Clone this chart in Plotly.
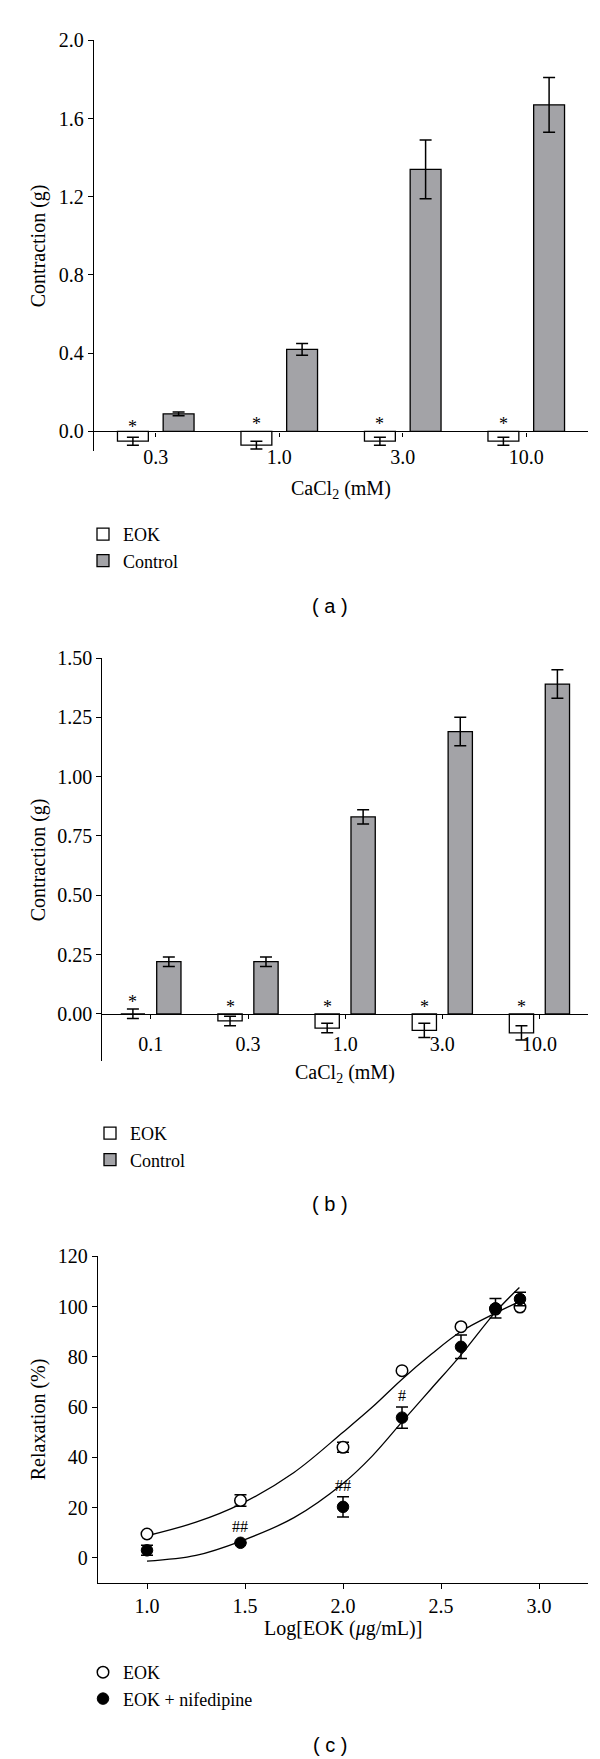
import plotly.graph_objects as go

W, H = 600, 1759

# ---------------- data ----------------
# Panel (a)
a_cats = ["0.3", "1.0", "3.0", "10.0"]
a_eok = [-0.05, -0.07, -0.05, -0.05]
a_eok_err = [0.02, 0.02, 0.02, 0.02]
a_ctrl = [0.09, 0.42, 1.34, 1.67]
a_ctrl_err = [0.01, 0.03, 0.15, 0.14]
a_star_y = [0.05, 0.065, 0.065, 0.065]
a_yticks = [0.0, 0.4, 0.8, 1.2, 1.6, 2.0]

# Panel (b)
b_cats = ["0.1", "0.3", "1.0", "3.0", "10.0"]
b_eok = [0.0, -0.03, -0.06, -0.07, -0.08]
b_eok_err = [0.02, 0.02, 0.02, 0.03, 0.03]
b_ctrl = [0.22, 0.22, 0.83, 1.19, 1.39]
b_ctrl_err = [0.02, 0.02, 0.03, 0.06, 0.06]
b_star_y = [0.072, 0.05, 0.05, 0.05, 0.05]
b_yticks = [0.0, 0.25, 0.5, 0.75, 1.0, 1.25, 1.5]

# Panel (c)
c_x = [1.0, 1.477, 2.0, 2.301, 2.602, 2.778, 2.903]
c_eok = [9.5, 22.8, 44.0, 74.5, 92.0, 99.0, 99.8]
c_eok_err = [0, 2.3, 2.0, 0, 0, 0, 0]
c_nif = [3.0, 6.0, 20.3, 55.8, 84.0, 99.3, 103.0]
c_nif_err = [2.0, 0, 4.0, 4.2, 4.7, 3.9, 2.7]
fit_x = [1.0, 1.25, 1.48, 1.75, 2.0, 2.15, 2.3, 2.45, 2.6, 2.78, 2.9]
fit_eok = [8.8, 14.2, 21.5, 34.0, 50.0, 60.0, 71.0, 81.0, 90.0, 97.5, 102.0]
fit_nif = [-1.3, 1.0, 6.7, 16.0, 29.6, 40.6, 54.0, 67.3, 80.6, 98.0, 107.6]
c_marks = ["##", "##", "#"]
c_marks_x = [1.477, 2.0, 2.301]
c_marks_y = [12.6, 28.7, 64.7]
c_xticks = [1.0, 1.5, 2.0, 2.5, 3.0]
c_yticks = [0, 20, 40, 60, 80, 100, 120]

# ---------------- styling ----------------
SERIF = "Liberation Serif"
SANS = "Liberation Sans"
GREY = "#a3a3a7"
FS = 20
LFS = 18


def py(p):
    return 1 - p / H


def px(p):
    return p / W


a_xdom = [px(86), px(580)]
a_ydom = [py(443), py(32.3)]
a_yr = [-0.1, 2.0]
b_xdom = [px(94.3), px(580)]
b_ydom = [py(1053.3), py(650)]
b_yr = [-0.2, 1.5]
c_xdom = [px(90), px(580)]
c_ydom = [py(1575), py(1248.3)]
c_yr = [-10, 120]


def zero_pos(dom, rng):
    return dom[0] + (0 - rng[0]) / (rng[1] - rng[0]) * (dom[1] - dom[0])


fig = go.Figure()

bar_off_eok, bar_off_ctrl, bar_w = -0.31, 0.06, 0.25
err_style = dict(type="data", color="black", thickness=1.5, width=6)

# (a) bars
fig.add_trace(go.Bar(x=a_cats, y=a_eok, offset=bar_off_eok, width=bar_w, name="EOK",
                     marker=dict(color="white", line=dict(color="black", width=1.3)),
                     error_y=dict(array=a_eok_err, **err_style),
                     xaxis="x", yaxis="y", legend="legend"))
fig.add_trace(go.Bar(x=a_cats, y=a_ctrl, offset=bar_off_ctrl, width=bar_w, name="Control",
                     marker=dict(color=GREY, line=dict(color="black", width=1.3)),
                     error_y=dict(array=a_ctrl_err, **err_style),
                     xaxis="x", yaxis="y", legend="legend"))
# (b) bars
fig.add_trace(go.Bar(x=b_cats, y=b_eok, offset=bar_off_eok, width=bar_w, name="EOK",
                     marker=dict(color="white", line=dict(color="black", width=1.3)),
                     error_y=dict(array=b_eok_err, **err_style),
                     xaxis="x2", yaxis="y2", legend="legend2"))
fig.add_trace(go.Bar(x=b_cats, y=b_ctrl, offset=bar_off_ctrl, width=bar_w, name="Control",
                     marker=dict(color=GREY, line=dict(color="black", width=1.3)),
                     error_y=dict(array=b_ctrl_err, **err_style),
                     xaxis="x2", yaxis="y2", legend="legend2"))

# (c) fit lines
for fy in (fit_eok, fit_nif):
    fig.add_trace(go.Scatter(x=fit_x, y=fy, mode="lines", line=dict(color="black", width=1.3, shape="spline"),
                             showlegend=False, xaxis="x3", yaxis="y3", hoverinfo="skip"))
# (c) points
fig.add_trace(go.Scatter(x=c_x, y=c_eok, mode="markers", name="EOK",
                         marker=dict(symbol="circle", size=11.5, color="white", line=dict(color="black", width=1.5)),
                         error_y=dict(array=c_eok_err, type="data", color="black", thickness=1.5, width=6),
                         xaxis="x3", yaxis="y3", legend="legend3"))
fig.add_trace(go.Scatter(x=c_x, y=c_nif, mode="markers", name="EOK + nifedipine",
                         marker=dict(symbol="circle", size=11.5, color="black", line=dict(color="black", width=1)),
                         error_y=dict(array=c_nif_err, type="data", color="black", thickness=1.5, width=6),
                         xaxis="x3", yaxis="y3", legend="legend3"))

tickfont = dict(family=SERIF, size=FS, color="black")
common_axis = dict(showgrid=False, zeroline=False, showline=True, linecolor="black", linewidth=1.3,
                   ticks="outside", tickcolor="black", tickwidth=1.2, tickfont=tickfont,
                   automargin=False, fixedrange=True)

annotations = []


def star_annots(ys, xref, yref):
    out = []
    for i, v in enumerate(ys):
        out.append(dict(x=i + bar_off_eok + bar_w / 2, y=v, xref=xref, yref=yref, text="*",
                        xanchor="center", yanchor="middle",
                        showarrow=False, font=dict(family=SERIF, size=18, color="black"), yshift=-5))
    return out


annotations += star_annots(a_star_y, "x", "y")
annotations += star_annots(b_star_y, "x2", "y2")
for t, xv, yv in zip(c_marks, c_marks_x, c_marks_y):
    annotations.append(dict(x=xv, y=yv, xref="x3", yref="y3", text=t, showarrow=False,
                            xanchor="center", yanchor="middle",
                            font=dict(family=SERIF, size=16, color="black")))


def ytitle(text, dom):
    return dict(x=px(30.6), y=(dom[0] + dom[1]) / 2, xref="paper", yref="paper", text=text,
                xanchor="center", yanchor="middle",
                textangle=-90, showarrow=False, font=dict(family=SERIF, size=FS, color="black"))


def xtitle(text, dom, ypix):
    return dict(x=(dom[0] + dom[1]) / 2, y=py(ypix), xref="paper", yref="paper", text=text,
                xanchor="center", yanchor="middle",
                showarrow=False, font=dict(family=SERIF, size=FS, color="black"))


annotations += [
    ytitle("Contraction (g)", a_ydom),
    ytitle("Contraction (g)", b_ydom),
    ytitle("Relaxation (%)", c_ydom),
    xtitle("CaCl<sub>2</sub> (mM)", a_xdom, 481),
    xtitle("CaCl<sub>2</sub> (mM)", b_xdom, 1065),
    xtitle("Log[EOK (<i>μ</i>g/mL)]", c_xdom, 1620),
]
for lab, ypix in (("( a )", 598), ("( b )", 1196), ("( c )", 1737)):
    annotations.append(dict(x=px(322), y=py(ypix), xref="paper", yref="paper", text=lab, showarrow=False,
                            xanchor="center", yanchor="middle",
                            font=dict(family=SANS, size=20, color="black")))

legfont = dict(family=SERIF, size=LFS, color="black")
leg_common = dict(xanchor="left", yanchor="top", font=legfont, bgcolor="rgba(0,0,0,0)",
                  tracegroupgap=0, itemclick=False, itemdoubleclick=False)

fig.update_layout(
    width=W, height=H,
    margin=dict(l=0, r=0, t=0, b=0),
    paper_bgcolor="white", plot_bgcolor="white",
    barmode="overlay",
    xaxis=dict(domain=a_xdom, type="category", range=[-0.5, 3.5], anchor="free",
               position=zero_pos(a_ydom, a_yr), ticklen=4, ticklabelstandoff=3, **common_axis),
    yaxis=dict(domain=a_ydom, anchor="x", range=a_yr, tickvals=a_yticks, tickformat=".1f",
               ticklen=5, **common_axis),
    xaxis2=dict(domain=b_xdom, type="category", range=[-0.5, 4.5], anchor="free",
                position=zero_pos(b_ydom, b_yr), ticklen=4, ticklabelstandoff=8, **common_axis),
    yaxis2=dict(domain=b_ydom, anchor="x2", range=b_yr, tickvals=b_yticks, tickformat=".2f",
                ticklen=5, **common_axis),
    xaxis3=dict(domain=c_xdom, anchor="y3", range=[0.75, 3.25], tickvals=c_xticks, tickformat=".1f",
                ticklen=5, **common_axis),
    yaxis3=dict(domain=c_ydom, anchor="x3", range=c_yr, tickvals=c_yticks,
                ticklen=5, **common_axis),
    legend=dict(x=px(75), y=py(508), **leg_common),
    legend2=dict(x=px(82), y=py(1107), **leg_common),
    legend3=dict(x=px(75), y=py(1646), **leg_common),
    annotations=annotations,
    showlegend=True,
)

fig.write_html("out.html")
